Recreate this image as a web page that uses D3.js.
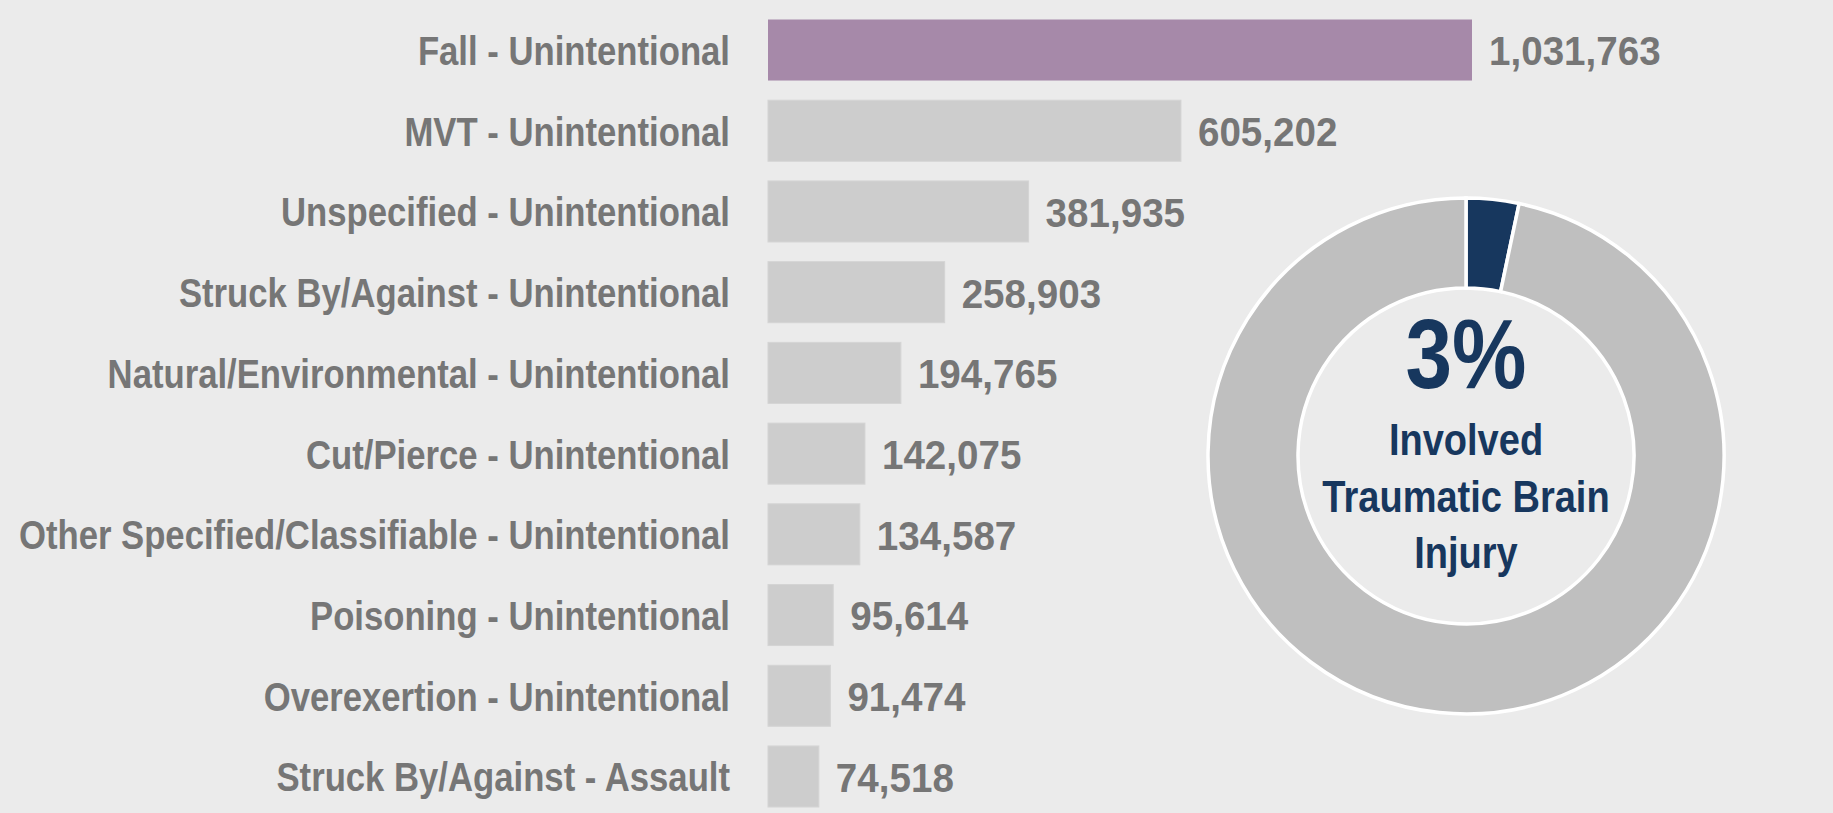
<!DOCTYPE html>
<html>
<head>
<meta charset="utf-8">
<script src="https://cdn.jsdelivr.net/npm/d3@7"></script>
<style>
  html, body { margin: 0; padding: 0; background: #EBEBEB; }
  svg { display: block; }
  text { font-family: "Liberation Sans", Arial, sans-serif; font-weight: bold; }
</style>
</head>
<body>
<svg id="chart" width="1833" height="813"></svg>
<script>
// Injury mechanism / intent categories and their counts
const categories = [
  "Fall - Unintentional",
  "MVT - Unintentional",
  "Unspecified - Unintentional",
  "Struck By/Against - Unintentional",
  "Natural/Environmental - Unintentional",
  "Cut/Pierce - Unintentional",
  "Other Specified/Classifiable - Unintentional",
  "Poisoning - Unintentional",
  "Overexertion - Unintentional",
  "Struck By/Against - Assault"
];
const counts = [1031763, 605202, 381935, 258903, 194765, 142075, 134587, 95614, 91474, 74518];

// Share of injuries involving traumatic brain injury (percent)
const tbiShare = [3.3, 96.7];
const tbiLines = ["Involved", "Traumatic Brain", "Injury"];

const W = 1833, H = 813;
const svg = d3.select("#chart");

// horizontal squeeze that gives the condensed lettering
const labelSqueeze = 0.836;
const valueSqueeze = 0.93;
const donutSqueeze = 0.845;

svg.append("rect").attr("width", W).attr("height", H).attr("fill", "#EBEBEB");

const y = d3.scaleBand()
  .domain(categories)
  .range([19.5, 807])
  .paddingInner(0.244)
  .paddingOuter(0);

const x = d3.scaleLinear()
  .domain([0, d3.max(counts)])
  .range([768, 1472]);

const rows = categories.map((c, i) => ({ cat: c, value: counts[i], i }));

// Bars
svg.append("g").selectAll("rect")
  .data(rows)
  .join("rect")
  .attr("x", x(0))
  .attr("y", d => y(d.cat))
  .attr("width", d => x(d.value) - x(0))
  .attr("height", y.bandwidth())
  .attr("fill", d => d.i === 0 ? "#A689A9" : "#CDCDCD")
  .attr("stroke", d => d.i === 0 ? "none" : "#D4D4D4")
  .attr("stroke-width", 1);

// Category labels (left axis without domain line or ticks)
const yAxis = d3.axisLeft(y).tickSize(0).tickPadding(0);
const axisG = svg.append("g")
  .attr("transform", "translate(730,0)")
  .call(yAxis);
axisG.select(".domain").remove();
axisG.selectAll("text")
  .attr("x", 0)
  .attr("fill", "#767676")
  .attr("font-size", 41.5)
  .attr("dy", "0.36em")
  .attr("transform", `scale(${labelSqueeze},1)`)
  .style("font-family", "'Liberation Sans', Arial, sans-serif")
  .style("font-weight", "bold");

// Value labels
const fmt = d3.format(",");
svg.append("g").selectAll("text")
  .data(rows)
  .join("text")
  .attr("transform", d => `translate(${x(d.value) + 17},${y(d.cat) + y.bandwidth() / 2}) scale(${valueSqueeze},1)`)
  .attr("dy", "0.37em")
  .attr("fill", "#767676")
  .attr("font-size", 41.5)
  .text(d => fmt(d.value));

// Donut showing share of traumatic brain injury
const cx = 1466, cy = 456;
const pie = d3.pie().sort(null).value(d => d);
const arc = d3.arc().innerRadius(168).outerRadius(258);
const donut = svg.append("g").attr("transform", `translate(${cx},${cy})`);
donut.selectAll("path")
  .data(pie(tbiShare))
  .join("path")
  .attr("d", arc)
  .attr("fill", (d, i) => i === 0 ? "#17375E" : "#BFBFBF")
  .attr("stroke", "#FFFFFF")
  .attr("stroke-width", 3.5)
  .attr("stroke-linejoin", "miter");

const pctFmt = d3.format(".0%");
donut.append("text")
  .attr("text-anchor", "middle")
  .attr("transform", `translate(0,-68) scale(${donutSqueeze},1)`)
  .attr("fill", "#17375E")
  .attr("font-size", 99)
  .text(pctFmt(tbiShare[0] / 100));

donut.selectAll("text.sub")
  .data(tbiLines)
  .join("text")
  .attr("class", "sub")
  .attr("text-anchor", "middle")
  .attr("transform", (d, i) => `translate(0,${-1 + i * 56.5}) scale(${donutSqueeze},1)`)
  .attr("fill", "#17375E")
  .attr("font-size", 45)
  .text(d => d);
</script>
</body>
</html>
